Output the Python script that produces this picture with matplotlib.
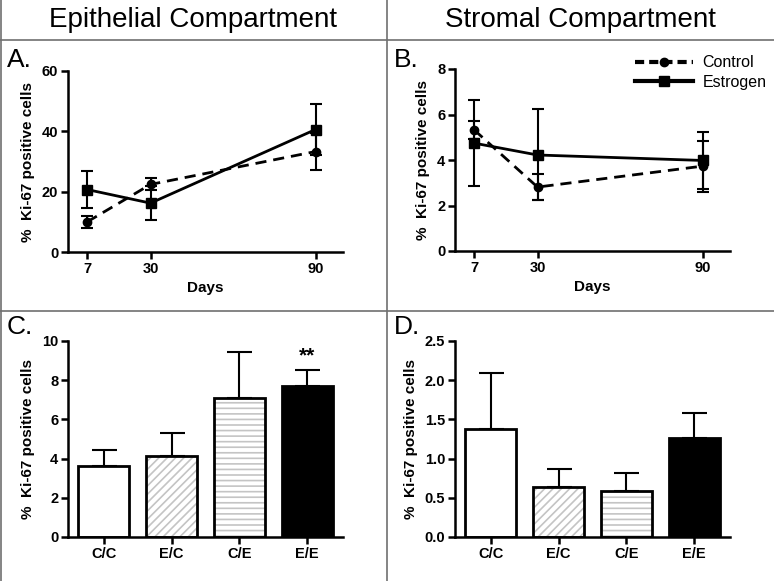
import numpy as np
import matplotlib.pyplot as plt
from matplotlib.lines import Line2D

plt.rcParams['font.family'] = ['Liberation Sans', 'DejaVu Sans']
plt.rcParams['hatch.linewidth'] = 1.2

# time course data (panels A, B)
days = [7, 30, 90]
epi_control = [10.0, 22.4, 33.3]
epi_control_err = [2.0, 2.0, 6.0]
epi_estrogen = [20.7, 16.2, 40.6]
epi_estrogen_err = [6.0, 5.7, 8.4]
str_control = [5.32, 2.81, 3.73]
str_control_err = [0.41, 0.58, 1.12]
str_estrogen = [4.74, 4.22, 3.98]
str_estrogen_err = [1.9, 2.0, 1.25]

# bar data (panels C, D)
groups = ['C/C', 'E/C', 'C/E', 'E/E']
epi_bars = [3.63, 4.15, 7.10, 7.69]
epi_bars_err = [0.79, 1.14, 2.32, 0.82]
str_bars = [1.38, 0.64, 0.59, 1.26]
str_bars_err = [0.71, 0.23, 0.22, 0.32]

W, H = 774, 581
fig = plt.figure(figsize=(W / 100, H / 100), dpi=100)


def box(x0, y_top, x1, y_bot):
    return [x0 / W, 1 - y_bot / H, (x1 - x0) / W, (y_bot - y_top) / H]


def style_axes(ax):
    for s in ['top', 'right']:
        ax.spines[s].set_visible(False)
    for s in ['left', 'bottom']:
        ax.spines[s].set_linewidth(1.8)
    ax.tick_params(width=1.8, length=5, labelsize=10.5, pad=2)
    for lab in ax.get_xticklabels() + ax.get_yticklabels():
        lab.set_fontweight('bold')
    ax.set_ylabel('%  Ki-67 positive cells', fontsize=11, fontweight='bold', labelpad=5)


def line_panel(ax, ctrl, ctrl_err, est, est_err, ymax, ystep):
    ax.errorbar(days, ctrl, yerr=ctrl_err, color='black', lw=2, ls=(0, (4, 2.5)),
                marker='o', ms=6, capsize=4, elinewidth=1.5, capthick=1.5)
    ax.errorbar(days, est, yerr=est_err, color='black', lw=2, ls='-',
                marker='s', ms=6.5, capsize=4, elinewidth=1.5, capthick=1.5)
    ax.set_xlim(0, 100)
    ax.set_ylim(0, ymax)
    ax.set_xticks(days)
    ax.set_yticks(np.arange(0, ymax + ystep / 2, ystep))
    ax.set_xlabel('Days', fontsize=11, fontweight='bold', labelpad=4)
    style_axes(ax)


def bar_panel(ax, vals, errs, ymax, ystep, fmt):
    x = np.arange(len(groups))
    faces = ['white', 'white', 'white', 'black']
    hatches = [None, '////', '---', None]
    for i in range(len(groups)):
        ax.bar(x[i], vals[i], width=0.75, color=faces[i], edgecolor='none', lw=0, zorder=2)
        if hatches[i]:
            ax.bar(x[i], vals[i], width=0.75, color='none', edgecolor='#c4c4c4', lw=0,
                   hatch=hatches[i], zorder=2)
        ax.bar(x[i], vals[i], width=0.75, color='none', edgecolor='black', lw=2, zorder=3)
    ax.errorbar(x, vals, yerr=[np.zeros(len(errs)), errs], fmt='none', ecolor='black',
                elinewidth=1.5, capsize=9, capthick=1.5, zorder=1)
    ax.set_xlim(-0.53, 3.53)
    ax.set_ylim(0, ymax)
    ax.set_xticks(x)
    ax.set_xticklabels(groups)
    ax.set_yticks(np.arange(0, ymax + ystep / 2, ystep))
    ax.yaxis.set_major_formatter(plt.FormatStrFormatter(fmt))
    style_axes(ax)


axA = fig.add_axes(box(68, 71, 343, 252))
line_panel(axA, epi_control, epi_control_err, epi_estrogen, epi_estrogen_err, 60, 20)

axB = fig.add_axes(box(455, 69, 730, 251))
line_panel(axB, str_control, str_control_err, str_estrogen, str_estrogen_err, 8, 2)
handles = [Line2D([], [], color='black', lw=3, ls=(0, (2.2, 1.2)), marker='o', ms=6),
           Line2D([], [], color='black', lw=3, ls='-', marker='s', ms=7)]
axB.legend(handles, ['Control', 'Estrogen'], loc='upper right', bbox_to_anchor=(1.185, 1.155),
           frameon=False, fontsize=11.5, handlelength=3.6, handletextpad=0.6, labelspacing=0.3)

axC = fig.add_axes(box(68, 341, 343, 537))
bar_panel(axC, epi_bars, epi_bars_err, 10, 2, '%d')
axC.text(3, epi_bars[3] + epi_bars_err[3] + 0.25, '**', ha='center', va='bottom',
         fontsize=15, fontweight='bold')

axD = fig.add_axes(box(455, 341, 730, 537))
bar_panel(axD, str_bars, str_bars_err, 2.5, 0.5, '%.1f')

# titles, panel letters and dividers
fig.text(193 / W, 1 - 20 / H, 'Epithelial Compartment', ha='center', va='center', fontsize=20)
fig.text(580 / W, 1 - 20 / H, 'Stromal Compartment', ha='center', va='center', fontsize=20)
for lab, xp, yp in [('A.', 7, 67), ('B.', 394, 67), ('C.', 7, 334), ('D.', 394, 334)]:
    fig.text(xp / W, 1 - yp / H, lab, ha='left', va='baseline', fontsize=19)

div = dict(color='#707070', lw=1.2, transform=fig.transFigure)
fig.add_artist(Line2D([0, 1], [1 - 40 / H, 1 - 40 / H], **div))
fig.add_artist(Line2D([0, 1], [1 - 311 / H, 1 - 311 / H], **div))
fig.add_artist(Line2D([386.5 / W, 386.5 / W], [0, 1], **div))
fig.add_artist(Line2D([0.5 / W, 0.5 / W], [0, 1], **div))

fig.savefig('out.png', dpi=100)
